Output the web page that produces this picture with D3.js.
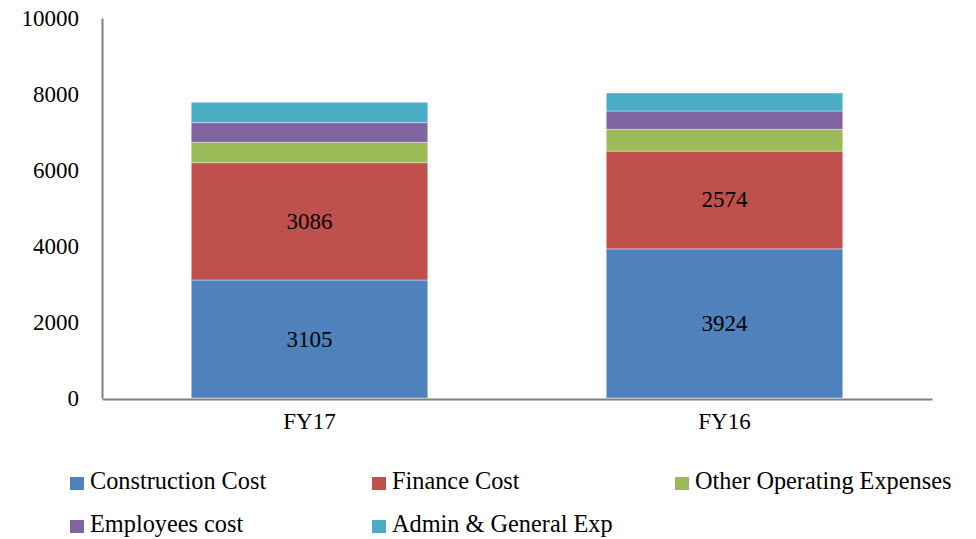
<!DOCTYPE html>
<html>
<head>
<meta charset="utf-8">
<script src="https://cdn.jsdelivr.net/npm/d3@7"></script>
<style>
  html, body { margin: 0; padding: 0; background: #fff; }
  svg { display: block; }
  text { font-family: "Liberation Serif", "DejaVu Serif", serif; fill: #000; }
</style>
</head>
<body>
<svg id="chart" width="976" height="539"></svg>
<script>
const categories = ["FY17", "FY16"];
const seriesNames = ["Construction Cost", "Finance Cost", "Other Operating Expenses", "Employees cost", "Admin & General Exp"];
const constructionCost = [3105, 3924];
const financeCost = [3086, 2574];
const otherOperating = [538, 573];
const employeesCost = [516, 482];
const adminGeneral = [537, 473];
const yTicks = [0, 2000, 4000, 6000, 8000, 10000];
const labelledSeries = ["Construction Cost", "Finance Cost"];
const colors = ["#4F81BD", "#C0504D", "#9BBB59", "#8064A2", "#4BACC6"];

const seriesValues = [constructionCost, financeCost, otherOperating, employeesCost, adminGeneral];
const rows = categories.map((c, i) => {
  const r = { cat: c };
  seriesNames.forEach((s, j) => r[s] = seriesValues[j][i]);
  return r;
});

const svg = d3.select("#chart");
const mLeft = 102, mRight = 932, mTop = 18, mBottom = 398;

const x = d3.scaleBand().domain(categories).range([mLeft, mRight]).paddingInner(0.43).paddingOuter(0.215);
const y = d3.scaleLinear().domain([0, 10000]).range([mBottom, mTop]);
const color = d3.scaleOrdinal().domain(seriesNames).range(colors);

const stack = d3.stack().keys(seriesNames)(rows);

const g = svg.append("g");
stack.forEach(layer => {
  g.selectAll(null).data(layer).enter().append("rect")
    .attr("x", d => x(d.data.cat))
    .attr("width", x.bandwidth())
    .attr("y", d => y(d[1]))
    .attr("height", d => y(d[0]) - y(d[1]))
    .attr("fill", color(layer.key))
    .attr("stroke", "#ffffff")
    .attr("stroke-opacity", 0.5)
    .attr("stroke-width", 0.8);
});

// value labels
stack.filter(l => labelledSeries.includes(l.key)).forEach(layer => {
  g.selectAll(null).data(layer).enter().append("text")
    .attr("x", d => x(d.data.cat) + x.bandwidth() / 2)
    .attr("y", d => (y(d[0]) + y(d[1])) / 2)
    .attr("text-anchor", "middle")
    .attr("dominant-baseline", "central")
    .attr("font-size", 23)
    .text(d => d.data[layer.key]);
});

// y axis
const yAxis = svg.append("g").attr("transform", `translate(${mLeft},0)`)
  .call(d3.axisLeft(y).tickValues(yTicks).tickSize(0).tickPadding(23).tickFormat(d3.format("d")));
yAxis.select(".domain").attr("stroke", "#808080").attr("stroke-width", 2);
yAxis.selectAll("text").attr("font-size", 23).attr("font-family", "Liberation Serif").attr("dy", "0.33em");

// x axis
const xAxis = svg.append("g").attr("transform", `translate(0,${mBottom + 1})`)
  .call(d3.axisBottom(x).tickSize(0).tickPadding(14));
xAxis.select(".domain").attr("stroke", "#808080").attr("stroke-width", 2);
xAxis.selectAll("text").attr("font-size", 23).attr("font-family", "Liberation Serif");

// legend
const legendPos = [
  { x: 70, y: 477 }, { x: 372, y: 477 }, { x: 675, y: 477 },
  { x: 70, y: 520 }, { x: 372, y: 520 }
];
const leg = svg.append("g");
seriesNames.forEach((s, i) => {
  const p = legendPos[i];
  leg.append("rect").attr("x", p.x).attr("y", p.y).attr("width", 14).attr("height", 13).attr("fill", color(s));
  leg.append("text").attr("x", p.x + 20).attr("y", p.y + 12).attr("font-size", 24.3).text(s);
});
</script>
</body>
</html>
